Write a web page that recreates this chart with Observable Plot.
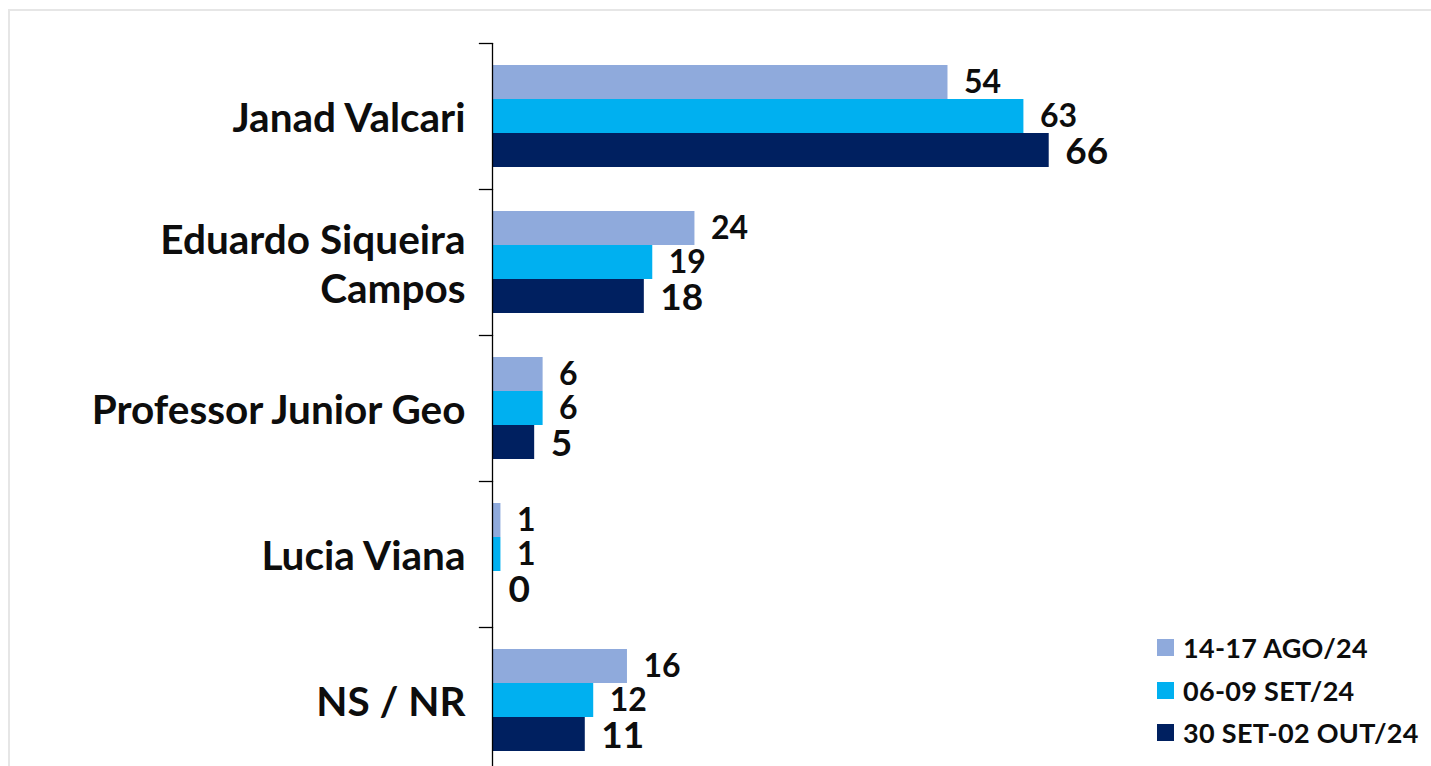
<!DOCTYPE html>
<html><head><meta charset="utf-8">
<script src="https://cdn.jsdelivr.net/npm/d3@7"></script>
<script src="https://cdn.jsdelivr.net/npm/@observablehq/plot@0.6"></script>
<style>
html,body{margin:0;padding:0;background:#fff;overflow:hidden}
#wrap{position:relative;width:1431px;height:766px;overflow:hidden;background:#fff;font-family:Lato, sans-serif}
#border{position:absolute;left:8px;top:9px;width:2000px;height:2000px;border:2px solid #e6e6e6;box-sizing:border-box}
#chart{position:absolute;left:0;top:0}
#legend{position:absolute;left:1157px;top:626px}
.item{display:flex;align-items:center;height:42.75px;font-weight:bold;font-size:27px;letter-spacing:0.3px;color:#0d0d0d;white-space:nowrap}
.sw{width:17px;height:17px;margin-right:9px;flex:none}
</style>
</head><body>
<div id="wrap"><div id="border"></div><div id="chart"></div><div id="legend"></div></div>
<script>
const categories = ["Janad Valcari","Eduardo Siqueira Campos","Professor Junior Geo","Lucia Viana","NS / NR"];
const series = ["14-17 AGO/24","06-09 SET/24","30 SET-02 OUT/24"];
const colors = ["#8FAADC","#00B0F0","#002060"];
const ago = [54,24,6,1,16];
const set = [63,19,6,1,12];
const out = [66,18,5,0,11];

const seriesValues = [ago, set, out];
const rows = [];
categories.forEach((c, i) => series.forEach((s, j) => rows.push({cat: c, series: s, value: seriesValues[j][i], last: j === 2})));

const plot = Plot.plot({
  width: 1431, height: 766,
  marginLeft: 492, marginRight: 0, marginTop: 43, marginBottom: 0,
  x: {domain: [0, 66], range: [492, 492 + 66 * 8.435], axis: null},
  fy: {domain: categories, range: [43, 773], padding: 0, label: null},
  y: {domain: series, paddingInner: 0, paddingOuter: 0.586, axis: null},
  color: {domain: series, range: colors},
  style: {fontFamily: "Lato, sans-serif", fontWeight: "bold", color: "#0d0d0d", background: "transparent", overflow: "visible"},
  marks: [
    Plot.barX(rows, {fy: "cat", y: "series", x: "value", fill: "series"}),
    Plot.ruleX([0], {stroke: "#000", strokeWidth: 1.3}),
    Plot.frame({anchor: "top", insetLeft: -13, insetRight: 1431 - 492, stroke: "#000", strokeWidth: 1.3}),
    Plot.axisFy({anchor: "left", tickSize: 0, tickPadding: 27, fontSize: 40.5, fontWeight: "bold", label: null, lineHeight: 1.22,
      tickFormat: d => d === "Eduardo Siqueira Campos" ? "Eduardo Siqueira\nCampos" : d}),
    Plot.text(rows.filter(d => !d.last), {fy: "cat", y: "series", x: "value", text: d => String(d.value), dx: 16, textAnchor: "start", fontSize: 32, fontWeight: "bold", fill: "#0d0d0d"}),
    Plot.text(rows.filter(d => d.last), {fy: "cat", y: "series", x: "value", text: d => String(d.value), dx: 16, dy: 2, textAnchor: "start", fontSize: 37, fontWeight: "bold", fill: "#0d0d0d"})
  ]
});
document.getElementById("chart").appendChild(plot);

const legend = document.getElementById("legend");
series.forEach((s, i) => {
  const item = document.createElement("div");
  item.className = "item";
  const sw = document.createElement("span");
  sw.className = "sw";
  sw.style.background = colors[i];
  item.appendChild(sw);
  item.appendChild(document.createTextNode(s));
  legend.appendChild(item);
});
</script>
</body></html>
